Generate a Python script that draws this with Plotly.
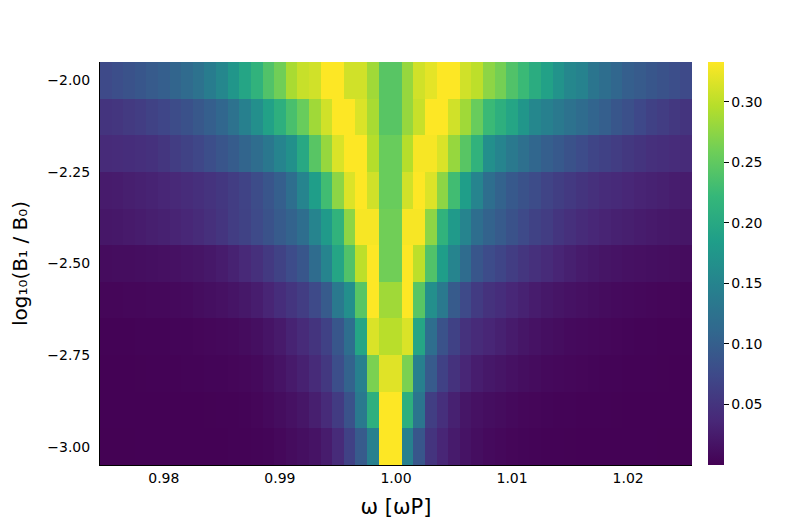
import plotly.graph_objects as go

# omega grid (units of omega_P) and log10(B1/B0) grid
omega = [round(0.975 + 0.001 * i, 3) for i in range(51)]
log_b1 = [-3.0, -2.9, -2.8, -2.7, -2.6, -2.5, -2.4, -2.3, -2.2, -2.1, -2.0]

row_m30 = [0.0005, 0.0005, 0.0005, 0.0006, 0.0006, 0.0007, 0.0008, 0.0009, 0.001, 0.0012, 0.0014, 0.0017, 0.002, 0.003, 0.004, 0.007, 0.01,
           0.013, 0.017, 0.026, 0.04, 0.065, 0.095, 0.145, 0.333, 0.333, 0.145, 0.09, 0.05, 0.035, 0.025, 0.017, 0.012, 0.009,
           0.007, 0.005, 0.004, 0.003, 0.002, 0.002, 0.0015, 0.0012, 0.001, 0.0009, 0.0008, 0.0007, 0.0006, 0.0006, 0.0005, 0.0005, 0.0005]
row_m29 = [0.001, 0.001, 0.001, 0.001, 0.001, 0.001, 0.001, 0.001, 0.0012, 0.0015, 0.0018, 0.002, 0.003, 0.005, 0.008, 0.011, 0.015,
           0.02, 0.028, 0.04, 0.058, 0.085, 0.135, 0.21, 0.333, 0.333, 0.21, 0.13, 0.062, 0.045, 0.03, 0.02, 0.015, 0.012,
           0.01, 0.008, 0.006, 0.005, 0.004, 0.003, 0.003, 0.002, 0.002, 0.002, 0.0015, 0.0012, 0.001, 0.001, 0.001, 0.001, 0.001]
row_m28 = [0.001, 0.001, 0.0012, 0.0015, 0.0018, 0.002, 0.002, 0.003, 0.003, 0.004, 0.004, 0.005, 0.006, 0.008, 0.012, 0.017, 0.024,
           0.03, 0.04, 0.055, 0.08, 0.105, 0.145, 0.265, 0.318, 0.318, 0.265, 0.145, 0.095, 0.065, 0.048, 0.035, 0.027, 0.022,
           0.019, 0.015, 0.012, 0.01, 0.008, 0.007, 0.006, 0.005, 0.004, 0.003, 0.003, 0.002, 0.002, 0.002, 0.0015, 0.0012, 0.001]
row_m27 = [0.002, 0.002, 0.002, 0.003, 0.003, 0.003, 0.004, 0.004, 0.005, 0.006, 0.007, 0.008, 0.01, 0.013, 0.018, 0.024, 0.032,
           0.04, 0.05, 0.065, 0.09, 0.12, 0.195, 0.315, 0.298, 0.298, 0.315, 0.195, 0.12, 0.085, 0.065, 0.048, 0.04, 0.035,
           0.03, 0.025, 0.02, 0.016, 0.013, 0.011, 0.009, 0.008, 0.007, 0.006, 0.005, 0.004, 0.003, 0.003, 0.002, 0.002, 0.002]
row_m26 = [0.005, 0.005, 0.006, 0.006, 0.007, 0.007, 0.008, 0.009, 0.011, 0.013, 0.015, 0.018, 0.022, 0.027, 0.034, 0.043, 0.052,
           0.06, 0.075, 0.095, 0.135, 0.165, 0.245, 0.333, 0.285, 0.285, 0.333, 0.245, 0.165, 0.135, 0.095, 0.075, 0.058, 0.048,
           0.043, 0.036, 0.031, 0.026, 0.022, 0.019, 0.016, 0.014, 0.012, 0.01, 0.009, 0.008, 0.007, 0.006, 0.005, 0.005, 0.004]
row_m25 = [0.01, 0.011, 0.011, 0.012, 0.013, 0.014, 0.015, 0.017, 0.019, 0.022, 0.026, 0.031, 0.038, 0.046, 0.056, 0.066, 0.078,
           0.09, 0.117, 0.15, 0.195, 0.24, 0.30, 0.333, 0.26, 0.26, 0.333, 0.30, 0.24, 0.185, 0.15, 0.117, 0.09, 0.078,
           0.07, 0.061, 0.053, 0.046, 0.04, 0.034, 0.029, 0.025, 0.022, 0.019, 0.017, 0.015, 0.014, 0.013, 0.012, 0.011, 0.01]
row_m24 = [0.021, 0.022, 0.024, 0.026, 0.028, 0.03, 0.033, 0.036, 0.04, 0.046, 0.052, 0.06, 0.066, 0.075, 0.085, 0.095, 0.105,
           0.12, 0.15, 0.18, 0.215, 0.275, 0.33, 0.33, 0.26, 0.26, 0.33, 0.33, 0.275, 0.215, 0.18, 0.15, 0.12, 0.105,
           0.095, 0.085, 0.075, 0.066, 0.06, 0.052, 0.046, 0.04, 0.036, 0.033, 0.03, 0.028, 0.026, 0.024, 0.022, 0.021, 0.02]
row_m23 = [0.025, 0.026, 0.028, 0.03, 0.032, 0.035, 0.038, 0.041, 0.045, 0.049, 0.054, 0.06, 0.067, 0.077, 0.088, 0.10, 0.12,
           0.15, 0.185, 0.23, 0.275, 0.316, 0.333, 0.31, 0.255, 0.255, 0.31, 0.333, 0.316, 0.275, 0.23, 0.185, 0.15, 0.12,
           0.105, 0.093, 0.085, 0.077, 0.068, 0.062, 0.056, 0.051, 0.046, 0.042, 0.039, 0.036, 0.033, 0.031, 0.029, 0.027, 0.026]
row_m22 = [0.04, 0.041, 0.043, 0.045, 0.047, 0.053, 0.06, 0.066, 0.072, 0.08, 0.088, 0.097, 0.107, 0.118, 0.133, 0.15, 0.167,
           0.20, 0.245, 0.28, 0.315, 0.333, 0.333, 0.296, 0.255, 0.255, 0.296, 0.33, 0.33, 0.315, 0.28, 0.245, 0.215, 0.165,
           0.15, 0.135, 0.122, 0.11, 0.10, 0.093, 0.085, 0.078, 0.07, 0.065, 0.06, 0.055, 0.05, 0.046, 0.044, 0.042, 0.04]
row_m21 = [0.05, 0.053, 0.057, 0.061, 0.066, 0.071, 0.077, 0.084, 0.092, 0.10, 0.11, 0.125, 0.145, 0.165, 0.19, 0.21, 0.235,
           0.255, 0.285, 0.31, 0.333, 0.333, 0.315, 0.29, 0.245, 0.245, 0.28, 0.305, 0.333, 0.333, 0.31, 0.285, 0.255, 0.225,
           0.21, 0.195, 0.175, 0.155, 0.145, 0.135, 0.125, 0.117, 0.108, 0.10, 0.09, 0.082, 0.073, 0.065, 0.06, 0.055, 0.05]
row_m20 = [0.075, 0.08, 0.085, 0.09, 0.095, 0.10, 0.107, 0.115, 0.125, 0.14, 0.155, 0.175, 0.195, 0.215, 0.24, 0.26, 0.29,
           0.305, 0.31, 0.333, 0.333, 0.31, 0.31, 0.285, 0.245, 0.245, 0.28, 0.31, 0.32, 0.333, 0.333, 0.31, 0.30, 0.275,
           0.262, 0.24, 0.225, 0.205, 0.19, 0.17, 0.155, 0.148, 0.13, 0.12, 0.11, 0.10, 0.095, 0.09, 0.085, 0.08, 0.075]

z_rows = [row_m30, row_m29, row_m28, row_m27, row_m26, row_m25, row_m24, row_m23, row_m22, row_m21, row_m20]

x_tick_vals = [0.98, 0.99, 1.00, 1.01, 1.02]
x_tick_text = ["0.98", "0.99", "1.00", "1.01", "1.02"]
y_tick_vals = [-3.0, -2.75, -2.5, -2.25, -2.0]
y_tick_text = ["−3.00", "−2.75", "−2.50", "−2.25", "−2.00"]
cb_tick_vals = [0.05, 0.10, 0.15, 0.20, 0.25, 0.30]
cb_tick_text = ["0.05", "0.10", "0.15", "0.20", "0.25", "0.30"]

font_family = "DejaVu Sans"

fig = go.Figure(
    go.Heatmap(
        x=omega,
        y=log_b1,
        z=z_rows,
        colorscale="Viridis",
        zmin=0.0,
        zmax=0.333,
        colorbar=dict(
            x=1.027,
            xanchor="left",
            y=0.5,
            yanchor="middle",
            len=1.0,
            lenmode="fraction",
            thickness=16,
            outlinewidth=0,
            ypad=0,
            xpad=0,
            tickvals=cb_tick_vals,
            ticktext=cb_tick_text,
            ticks="outside",
            ticklen=5,
            tickcolor="#000000",
            tickfont=dict(family=font_family, size=14, color="#000000"),
        ),
    )
)

# the page body has an 8px margin, so the figure is sized/margined to land
# the plot area at x 100..692, y 62..465 in the 793x529 window
fig.update_layout(
    width=785,
    height=521,
    margin=dict(l=92, r=101, t=54, b=64),
    paper_bgcolor="white",
    plot_bgcolor="white",
    font=dict(family=font_family, color="#000000"),
)
fig.update_xaxes(
    range=[0.9745, 1.0255],
    tickvals=x_tick_vals,
    ticktext=x_tick_text,
    tickfont=dict(size=14),
    showline=True,
    linecolor="#000000",
    linewidth=1,
    ticks="",
    showgrid=False,
    zeroline=False,
    automargin=False,
    title=dict(text="ω [ωP]", font=dict(size=21), standoff=14),
)
fig.update_yaxes(
    range=[-3.05, -1.95],
    tickvals=y_tick_vals,
    ticktext=y_tick_text,
    tickfont=dict(size=14),
    ticklabelstandoff=6,
    showline=True,
    linecolor="#000000",
    linewidth=1,
    ticks="",
    showgrid=False,
    zeroline=False,
    automargin=False,
    title=dict(text="log₁₀(B₁ / B₀)", font=dict(size=20), standoff=20),
)

fig.write_html("out.html")
